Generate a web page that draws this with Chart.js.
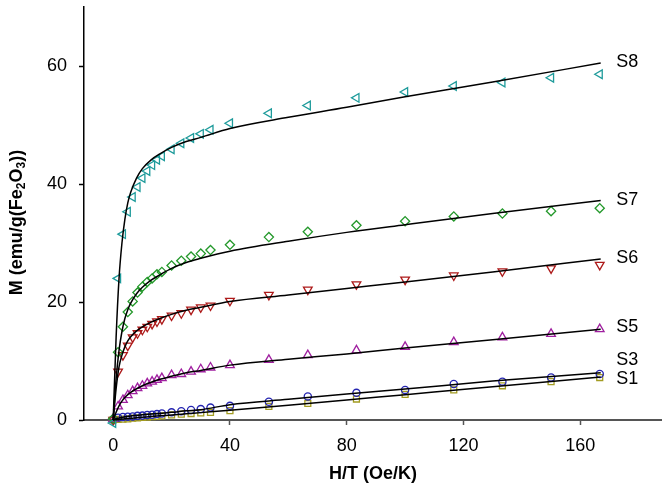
<!DOCTYPE html>
<html>
<head>
<meta charset="utf-8">
<script src="https://cdn.jsdelivr.net/npm/chart.js@4.4.1/dist/chart.umd.min.js"></script>
<style>
  html, body { margin: 0; padding: 0; background: #ffffff; }
  #wrap { width: 662px; height: 492px; }
</style>
</head>
<body>
<div id="wrap"><canvas id="c" width="662" height="492"></canvas></div>
<script>
// ---- data ----
const hOverT = [0, 1.67, 3.33, 5, 6.67, 8.33, 10, 11.67, 13.33, 15, 16.67, 20, 23.33, 26.67, 30, 33.33, 40, 53.33, 66.67, 83.33, 100, 116.67, 133.33, 150, 166.67];
const mS8 = [-0.5, 24.0, 31.5, 35.3, 37.8, 39.5, 41.0, 42.2, 43.2, 44.1, 44.7, 45.9, 46.9, 47.8, 48.5, 49.2, 50.3, 52.0, 53.3, 54.6, 55.6, 56.6, 57.2, 58.0, 58.6];
const mS7 = [0.2, 11.5, 15.8, 18.3, 20.1, 21.6, 22.6, 23.4, 24.0, 24.7, 25.1, 26.2, 27.0, 27.7, 28.2, 28.8, 29.7, 31.0, 31.9, 33.0, 33.7, 34.5, 35.0, 35.4, 35.9];
const mS6 = [0, 8.2, 11.0, 12.6, 14.0, 14.7, 15.3, 15.8, 16.3, 16.7, 17.1, 17.7, 18.1, 18.7, 19.1, 19.4, 20.2, 21.2, 22.1, 23.0, 23.8, 24.5, 25.2, 25.7, 26.3];
const mS5 = [0.2, 2.3, 3.4, 4.2, 4.9, 5.4, 5.8, 6.2, 6.5, 6.8, 7.1, 7.6, 7.8, 8.2, 8.6, 8.9, 9.3, 10.2, 11.0, 11.8, 12.4, 13.2, 14.0, 14.6, 15.4];
const mS3 = [0.1, 0.4, 0.5, 0.55, 0.6, 0.7, 0.75, 0.85, 0.9, 1.0, 1.1, 1.3, 1.5, 1.7, 1.85, 2.1, 2.4, 3.1, 4.0, 4.6, 5.1, 6.1, 6.5, 7.2, 7.8];
const mS1 = [0, 0.1, 0.15, 0.2, 0.3, 0.35, 0.45, 0.5, 0.55, 0.6, 0.7, 0.85, 1.0, 1.1, 1.2, 1.3, 1.6, 2.3, 2.8, 3.55, 4.35, 5.1, 5.8, 6.5, 7.2];

// fitted curves (black lines)
const fitX = [0, 1, 2, 3, 4, 5, 6, 8, 10, 13, 16, 20, 25, 30, 40, 60, 80, 100, 130, 167];
const fitS8 = [0, 14, 24, 30, 34, 36.8, 38.6, 41.0, 42.6, 44.1, 45.1, 46.2, 47.2, 47.9, 49.4, 51.3, 53.0, 54.8, 57.3, 60.5];
const fitS7 = [0, 7.0, 11.8, 15.0, 17.2, 18.7, 19.8, 21.4, 22.5, 23.7, 24.6, 25.7, 26.7, 27.4, 28.6, 30.3, 31.8, 33.1, 35.0, 37.2];
const fitS6 = [0, 5.3, 9.0, 11.0, 12.4, 13.4, 14.1, 15.1, 15.8, 16.6, 17.2, 17.9, 18.6, 19.1, 20.1, 21.2, 22.3, 23.4, 25.1, 27.3];
const fitS5 = [0, 1.3, 2.4, 3.2, 3.8, 4.3, 4.7, 5.3, 5.8, 6.4, 6.9, 7.4, 8.0, 8.4, 9.3, 10.3, 11.2, 12.2, 13.6, 15.4];
const fitS3 = [0, 0.2, 0.35, 0.45, 0.55, 0.62, 0.68, 0.78, 0.88, 1.0, 1.12, 1.3, 1.55, 1.75, 2.6, 3.5, 4.4, 5.25, 6.6, 8.0];
const fitS1 = [0, 0.05, 0.1, 0.15, 0.2, 0.25, 0.3, 0.38, 0.46, 0.58, 0.7, 0.85, 1.05, 1.25, 1.65, 2.5, 3.4, 4.3, 5.65, 7.3];

// series labels at the right end of the curves
const seriesNames = ['S8', 'S7', 'S6', 'S5', 'S3', 'S1'];
const labelX = 172.3;
const labelY = [60.6, 37.3, 27.5, 15.7, 10.2, 7.0];

const xTicks = [0, 40, 80, 120, 160];
const yTicks = [0, 20, 40, 60];

// ---- build ----
const FONT = "'Liberation Sans', Arial, Helvetica, sans-serif";
const toXY = (xs, ys) => xs.map((x, i) => ({ x: x, y: ys[i] }));

function markers(label, ys, color, style, rot, radius) {
  return {
    label: label, data: toXY(hOverT, ys), showLine: false,
    pointStyle: style, pointRotation: rot, pointRadius: radius, pointHoverRadius: radius,
    pointBorderColor: color, pointBackgroundColor: 'rgba(0,0,0,0)', pointBorderWidth: 1.3,
    clip: false, order: 2
  };
}
function fitLine(label, ys) {
  return {
    label: label, data: toXY(fitX, ys), showLine: true, pointRadius: 0,
    borderColor: '#000000', borderWidth: 1.5, cubicInterpolationMode: 'monotone',
    fill: false, clip: false, order: 1
  };
}

const datasets = [
  markers('S8', mS8, '#1e9b9b', 'triangle', -90, 5),
  markers('S7', mS7, '#23982a', 'rectRot', 0, 4.6),
  markers('S6', mS6, '#ad1a1a', 'triangle', 180, 5),
  markers('S5', mS5, '#a020a0', 'triangle', 0, 5),
  markers('S3', mS3, '#2424b0', 'circle', 0, 3.6),
  markers('S1', mS1, '#a39c22', 'rect', 0, 4.2),
  fitLine('S8 fit', fitS8),
  fitLine('S7 fit', fitS7),
  fitLine('S6 fit', fitS6),
  fitLine('S5 fit', fitS5),
  fitLine('S3 fit', fitS3),
  fitLine('S1 fit', fitS1)
];

const seriesLabelPlugin = {
  id: 'seriesLabels',
  afterDatasetsDraw(chart) {
    const ctx = chart.ctx, xs = chart.scales.x, ys = chart.scales.y;
    ctx.save();
    ctx.fillStyle = '#000';
    ctx.font = '18px ' + FONT;
    ctx.textAlign = 'left';
    ctx.textBaseline = 'middle';
    seriesNames.forEach((n, i) => {
      ctx.fillText(n, xs.getPixelForValue(labelX), ys.getPixelForValue(labelY[i]));
    });
    ctx.restore();
  }
};

// y-axis title with true subscripts: M (emu/g(Fe2O3))
const yTitleParts = [['M (emu/g(Fe', false], ['2', true], ['O', false], ['3', true], ['))', false]];
const yTitlePlugin = {
  id: 'yTitle',
  afterDraw(chart) {
    const ctx = chart.ctx, area = chart.chartArea;
    const big = 'bold 18px ' + FONT, small = 'bold 12px ' + FONT;
    ctx.save();
    ctx.translate(17, (area.top + area.bottom) / 2 + 9);
    ctx.rotate(-Math.PI / 2);
    ctx.fillStyle = '#000';
    ctx.textBaseline = 'middle';
    ctx.textAlign = 'left';
    let total = 0;
    yTitleParts.forEach(([t, sub]) => { ctx.font = sub ? small : big; total += ctx.measureText(t).width; });
    let x = -total / 2;
    yTitleParts.forEach(([t, sub]) => {
      ctx.font = sub ? small : big;
      ctx.fillText(t, x, sub ? 5 : 0);
      x += ctx.measureText(t).width;
    });
    ctx.restore();
  }
};

new Chart(document.getElementById('c'), {
  type: 'scatter',
  data: { datasets: datasets },
  plugins: [seriesLabelPlugin, yTitlePlugin],
  options: {
    responsive: false,
    animation: false,
    devicePixelRatio: 1,
    layout: { autoPadding: false, padding: { left: 0, right: 0, top: 7, bottom: 0 } },
    plugins: { legend: { display: false }, tooltip: { enabled: false } },
    scales: {
      x: {
        type: 'linear', min: -10, max: 188,
        afterBuildTicks: (s) => { s.ticks = xTicks.map(v => ({ value: v })); },
        afterFit: (s) => { s.height = 72; s.paddingLeft = 0; s.paddingRight = 0; },
        border: { display: true, color: '#555555', width: 2 },
        grid: { display: true, drawOnChartArea: false, drawTicks: true, tickLength: 5, tickColor: '#555555', tickWidth: 1.5 },
        ticks: { color: '#000', font: { family: FONT, size: 18 }, padding: 10, maxRotation: 0 },
        title: { display: true, text: 'H/T (Oe/K)', color: '#000', font: { family: FONT, size: 18, weight: 'bold' }, padding: { top: 0, bottom: 7 } }
      },
      y: {
        type: 'linear', min: 0, max: 70,
        afterBuildTicks: (s) => { s.ticks = yTicks.map(v => ({ value: v })); },
        afterFit: (s) => { s.width = 84; s.paddingTop = 0; s.paddingBottom = 0; },
        border: { display: true, color: '#000000', width: 1.5 },
        grid: { display: true, drawOnChartArea: false, drawTicks: true, tickLength: 5, tickColor: '#000000', tickWidth: 1.5 },
        ticks: { color: '#000', font: { family: FONT, size: 18 }, padding: 12 },
        title: { display: false, text: 'M (emu/g(Fe2O3))' }
      }
    }
  }
});
</script>
</body>
</html>
